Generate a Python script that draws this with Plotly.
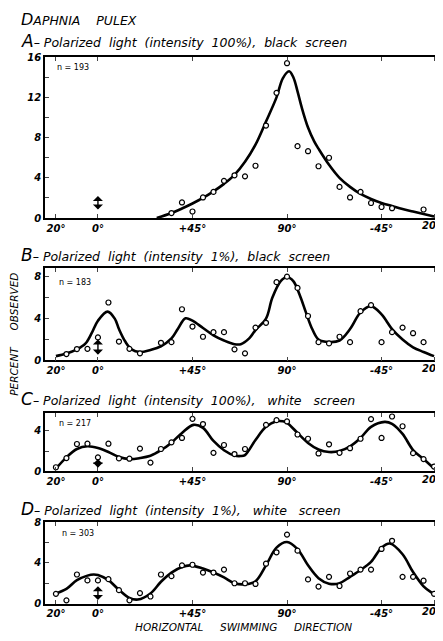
import plotly.graph_objects as go

# ---------------- data ----------------
tick_vals = [-20, 0, 45, 90, 135, 160]
tick_text = ["20°", "0°", "+45°", "90°", "-45°", ""]
right_label = "20°"

# Panel A
A_x = [35, 40, 45, 50, 55, 60, 65, 70, 75, 80, 85, 90, 95, 100, 105, 110, 115, 120, 125, 130, 135, 140, 155]
A_y = [0.5, 1.55, 0.65, 2.05, 2.6, 3.7, 4.25, 4.15, 5.2, 9.2, 12.45, 15.4, 7.15, 6.65, 5.15, 6.0, 3.1, 2.05, 2.6, 1.5, 1.1, 0.98, 0.85]
A_cx = [28, 35, 40, 45, 50, 55, 60, 65, 70, 75, 80, 85, 88, 91, 93, 95, 97, 100, 103, 105, 110, 115, 120, 125, 130, 135, 140, 145, 150, 155, 160]
A_cy = [0, 0.5, 0.95, 1.45, 2.0, 2.65, 3.4, 4.3, 5.6, 7.3, 9.6, 12.0, 13.9, 14.6, 14.0, 12.6, 11.0, 9.0, 7.6, 6.9, 5.3, 4.0, 3.1, 2.4, 1.9, 1.5, 1.2, 0.9, 0.65, 0.4, 0.15]

# Panel B
B_x = [-15, -10, -5, 0, 5, 10, 15, 20, 30, 35, 40, 45, 50, 55, 60, 65, 70, 75, 80, 85, 90, 95, 100, 105, 110, 115, 120, 125, 130, 135, 140, 145, 150, 155]
B_y = [0.6, 1.08, 1.1, 2.2, 5.55, 1.8, 1.1, 0.67, 1.68, 1.74, 4.9, 3.24, 2.26, 2.7, 2.7, 1.05, 0.67, 3.14, 3.6, 7.5, 8.03, 6.95, 4.25, 1.74, 1.62, 2.26, 1.74, 4.72, 5.3, 1.74, 2.7, 3.14, 2.6, 1.74]
B_cx = [-20, -15, -10, -6, -3, 0, 4.6, 8, 10, 13, 16, 20, 25, 30, 35, 38, 41.7, 45, 50, 55, 60, 65, 68, 72, 75, 80, 83, 87, 90, 93, 96, 99, 102, 105, 110, 115, 120, 125, 130, 135, 140, 145, 150, 155, 160]
B_cy = [0.4, 0.65, 1.05, 1.6, 2.6, 3.8, 4.67, 4.0, 3.0, 1.8, 1.05, 0.8, 1.0, 1.35, 2.1, 3.0, 4.03, 3.8, 3.1, 2.4, 1.9, 1.55, 1.55, 2.1, 2.9, 4.0, 6.0, 7.6, 8.0, 7.6, 6.3, 4.6, 3.0, 2.0, 1.75, 1.9, 3.0, 4.6, 5.2, 4.4, 3.0, 2.0, 1.25, 0.8, 0.4]

# Panel C
C_x = [-20, -15, -10, -5, 0, 5, 10, 15, 20, 25, 30, 35, 40, 45, 50, 55, 60, 65, 70, 80, 85, 90, 95, 100, 105, 110, 115, 120, 125, 130, 135, 140, 145, 150, 155, 160]
C_y = [0.39, 1.3, 2.7, 2.73, 1.37, 2.73, 1.27, 1.24, 2.24, 0.85, 2.2, 2.86, 3.3, 5.2, 4.68, 1.82, 2.6, 1.7, 2.2, 4.6, 5.07, 4.94, 3.64, 3.22, 1.76, 2.67, 1.82, 2.28, 3.22, 5.17, 3.3, 5.43, 4.46, 1.79, 1.2, 0.46]
C_cx = [-20, -15, -10, -5, 0, 5, 10, 15, 20, 25, 30, 35, 40, 45.5, 50, 55, 60, 65, 68, 70, 75, 80, 85, 88, 90, 95, 100, 105, 110, 115, 120, 125, 130, 136.5, 140, 145, 150, 155, 160]
C_cy = [0.25, 1.37, 2.2, 2.47, 2.3, 1.9, 1.4, 1.2, 1.3, 1.53, 2.08, 2.83, 3.8, 4.6, 4.3, 3.0, 2.08, 1.55, 1.5, 1.6, 3.1, 4.4, 4.96, 4.95, 4.8, 3.8, 2.8, 2.15, 1.9, 2.0, 2.47, 3.3, 4.4, 4.9, 4.7, 3.7, 2.1, 1.2, 0.25]

# Panel D
D_x = [-20, -15, -10, -5, 0, 5, 10, 15, 20, 25, 30, 35, 40, 45, 50, 55, 60, 65, 70, 75, 80, 85, 90, 95, 100, 105, 110, 115, 120, 125, 130, 135, 140, 145, 150, 155, 160]
D_y = [0.96, 0.32, 2.86, 2.28, 2.28, 2.4, 1.32, 0.32, 1.03, 0.7, 2.86, 2.7, 3.76, 3.82, 3.05, 3.05, 3.34, 2.0, 2.0, 1.93, 3.92, 5.04, 6.78, 5.2, 2.38, 1.67, 2.63, 1.73, 2.96, 3.34, 3.34, 5.37, 6.17, 2.63, 2.63, 2.25, 0.96]
D_cx = [-20, -15, -10, -5, -2, 0, 5, 10, 15, 19, 25, 30, 35, 40, 44, 50, 55, 60, 65, 70, 75, 80, 85, 90, 95, 100, 105, 110, 115, 120, 125, 130, 135, 139, 145, 150, 155, 159]
D_cy = [1.0, 1.45, 2.3, 2.75, 2.86, 2.8, 2.3, 1.35, 0.55, 0.4, 1.0, 2.15, 3.05, 3.6, 3.76, 3.44, 3.05, 2.57, 2.0, 1.9, 2.2, 3.76, 5.5, 6.05, 5.35, 3.76, 2.5, 1.96, 2.0, 2.63, 3.3, 4.1, 5.5, 5.9, 4.85, 3.1, 1.7, 1.05]

n_labels = ["n = 193", "n = 183", "n = 217", "n = 303"]
S = "\u00a0"
titles = [
    ("A", f"Polarized{S} light{S} (intensity{S} 100%),{S} black{S} screen"),
    ("B", f"Polarized{S} light{S} (intensity{S} 1%),{S} black{S} screen"),
    ("C", f"Polarized{S} light{S} (intensity{S} 100%),{S*2} white{S*2} screen"),
    ("D", f"Polarized{S} light{S} (intensity{S} 1%),{S*2} white{S*2} screen"),
]
y_max = [16, 8.85, 5.75, 8]
y_ticks = [[0, 2, 4, 6, 8, 10, 12, 14, 16], [0, 2, 4, 6, 8], [0, 2, 4], [0, 2, 4, 6, 8]]
arrow_span = [(0.7, 2.2), (0.4, 2.0), (0.2, 1.2), (0.2, 1.7)]

# ---------------- layout geometry (page pixels) ----------------
# the html body has an 8px default margin, so the figure is offset by it
OFF = 8
PAGE_W, PAGE_H = 443, 641
W, H = PAGE_W - OFF, PAGE_H - OFF
x_left, x_right = 45, 441
frames = [(52, 216), (267, 361), (415, 474), (526, 609)]
title_y = [36, 254, 400, 513]
n_pos = [(55, 63), (57, 282), (57, 425), (60, 538)]
x_range = [-25.2, 163.3]


def py(p):
    return 1 - (p - OFF) / H


def px(p):
    return (p - OFF) / W


FONT = "DejaVu Sans"
fig = go.Figure()
panels = [(A_x, A_y, A_cx, A_cy), (B_x, B_y, B_cx, B_cy), (C_x, C_y, C_cx, C_cy), (D_x, D_y, D_cx, D_cy)]
annotations = []
layout = dict(
    width=W, height=H, margin=dict(l=0, r=0, t=0, b=0),
    paper_bgcolor="white", plot_bgcolor="white", showlegend=False,
    font=dict(family=FONT, color="black"),
)

for i, (px_, py_, cx, cy) in enumerate(panels):
    k = "" if i == 0 else str(i + 1)
    xa, ya = "x" + k, "y" + k
    fig.add_trace(go.Scatter(x=cx, y=cy, mode="lines", line=dict(color="black", width=2.6, shape="spline", smoothing=1.0),
                             xaxis=xa, yaxis=ya, hoverinfo="skip"))
    fig.add_trace(go.Scatter(x=px_, y=py_, mode="markers",
                             marker=dict(symbol="circle", size=5, color="white", line=dict(color="black", width=1.2)),
                             xaxis=xa, yaxis=ya, cliponaxis=False))
    top, bot = frames[i]
    layout["xaxis" + k] = dict(
        domain=[px(x_left), px(x_right)], range=x_range, anchor=ya,
        tickvals=tick_vals, ticktext=tick_text, ticks="inside", ticklen=4, tickwidth=1.2,
        showline=True, linecolor="black", linewidth=1.6, mirror="ticks", showgrid=False, zeroline=False,
        tickfont=dict(family=FONT, size=10, style="italic", weight="bold"),
    )
    labels = [str(v) if v % 4 == 0 else "" for v in y_ticks[i]]
    layout["yaxis" + k] = dict(
        domain=[py(bot), py(top)], range=[0, y_max[i]], anchor=xa,
        tickvals=y_ticks[i], ticktext=labels, ticks="inside", ticklen=4, tickwidth=1.2,
        showline=True, linecolor="black", linewidth=1.6, mirror="ticks", showgrid=False, zeroline=False,
        tickfont=dict(family=FONT, size=10, style="italic", weight="bold"),
    )
    # right-hand "20°" label placed so that it stays on the page
    annotations.append(dict(
        text=right_label, x=1.0, y=py(bot + 8), xref="paper", yref="paper", xanchor="right", yanchor="middle",
        showarrow=False, font=dict(family=FONT, size=10, style="italic", weight="bold"),
    ))
    letter, rest = titles[i]
    annotations.append(dict(
        text="<span style='font-size:17px'>" + letter + "</span>\u2013 " + rest,
        x=px(19), y=py(title_y[i]), xref="paper", yref="paper", xanchor="left", yanchor="middle",
        showarrow=False, font=dict(family=FONT, size=12.5, style="italic"),
    ))
    nx, ny = n_pos[i]
    annotations.append(dict(
        text=n_labels[i], x=px(nx), y=py(ny), xref="paper", yref="paper", xanchor="left", yanchor="middle",
        showarrow=False, font=dict(family=FONT, size=8),
    ))
    a0, a1 = arrow_span[i]
    annotations.append(dict(
        x=0, y=a1, ax=0, ay=a0, xref=xa, yref=ya, axref=xa, ayref=ya, text="",
        showarrow=True, arrowhead=1, arrowside="end+start", arrowsize=1.2, arrowwidth=1.4, arrowcolor="black",
    ))

annotations.append(dict(
    text=f"<span style='font-size:16px'>D</span>APHNIA{S*3} PULEX", x=px(19), y=py(14), xref="paper", yref="paper",
    xanchor="left", yanchor="middle", showarrow=False, font=dict(family=FONT, size=12.5, style="italic"),
))
annotations.append(dict(
    text=f"PERCENT{S*4} OBSERVED", x=px(14), y=py(335), xref="paper", yref="paper",
    xanchor="center", yanchor="middle", textangle=-90, showarrow=False, font=dict(family=FONT, size=10.5, style="italic"),
))
annotations.append(dict(
    text=f"HORIZONTAL{S*4} SWIMMING{S*4} DIRECTION", x=px(243), y=py(633), xref="paper", yref="paper",
    xanchor="center", yanchor="middle", showarrow=False, font=dict(family=FONT, size=10.5, style="italic"),
))
layout["annotations"] = annotations
fig.update_layout(**layout)
fig.write_html("out.html")
